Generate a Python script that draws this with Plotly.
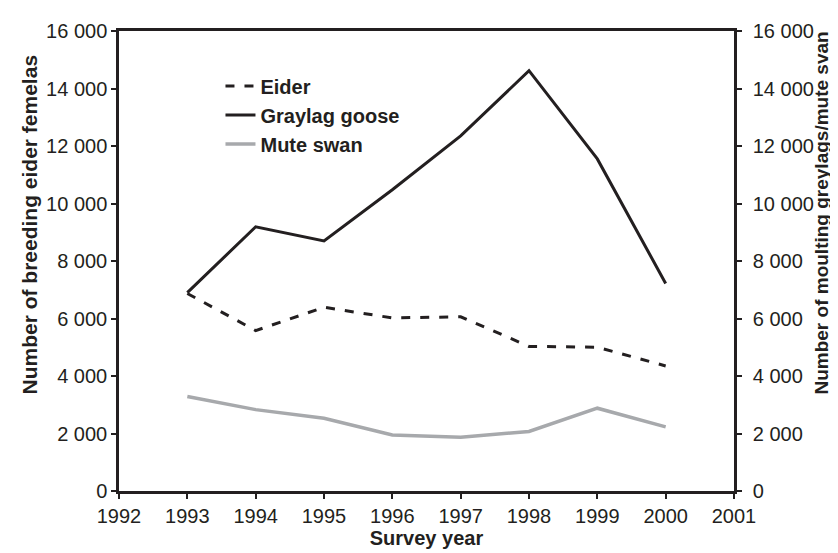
import plotly.graph_objects as go

years = [1993, 1994, 1995, 1996, 1997, 1998, 1999, 2000]
eider = [6870, 5580, 6390, 6020, 6060, 5030, 5000, 4350]
graylag = [6900, 9190, 8700, 10480, 12350, 14620, 11550, 7220]
mute_swan = [3290, 2830, 2530, 1950, 1870, 2070, 2880, 2230]

FONT = "Liberation Sans, Arial, sans-serif"
BLACK = "#231f20"
GREY = "#a7a9ac"

fig = go.Figure()
fig.add_trace(go.Scatter(x=years, y=eider, name="<b>Eider</b>", mode="lines",
                         line=dict(color=BLACK, width=3, dash="9px,10px"), yaxis="y"))
fig.add_trace(go.Scatter(x=years, y=graylag, name="<b>Graylag goose</b>", mode="lines",
                         line=dict(color=BLACK, width=3), yaxis="y2"))
fig.add_trace(go.Scatter(x=years, y=mute_swan, name="<b>Mute swan</b>", mode="lines",
                         line=dict(color=GREY, width=3.5), yaxis="y2"))

axis_common = dict(range=[0, 16000], dtick=2000, tickformat=",d", showline=True,
                   linecolor=BLACK, linewidth=2.5, ticks="outside", ticklen=5,
                   tickcolor=BLACK, tickwidth=2, showgrid=False, zeroline=False,
                   tickfont=dict(family=FONT, size=20, color=BLACK))

fig.update_layout(
    width=838, height=553,
    margin=dict(l=111, r=112, t=16, b=70),
    paper_bgcolor="white", plot_bgcolor="white",
    separators=". ",
    font=dict(family=FONT, color=BLACK),
    xaxis=dict(range=[1992, 2001], dtick=1, showline=True, mirror=True,
               linecolor=BLACK, linewidth=2.5, ticks="outside", ticklen=5,
               tickcolor=BLACK, tickwidth=2, showgrid=False, zeroline=False,
               tickfont=dict(family=FONT, size=20, color=BLACK),
               title=dict(text="<b>Survey year</b>", font=dict(family=FONT, size=20, color=BLACK),
                          standoff=6)),
    yaxis=dict(**axis_common),
    yaxis2=dict(**axis_common, overlaying="y", side="right", ticklabelstandoff=7),
    showlegend=True,
    legend=dict(x=0.165, y=0.923, xanchor="left", yanchor="top",
                bgcolor="rgba(0,0,0,0)", font=dict(family=FONT, size=20, color=BLACK),
                tracegroupgap=0),
    annotations=[
        dict(text="<b>Number of breeding eider femelas</b>", textangle=-90,
             xref="paper", yref="paper", x=-0.145, y=0.205, xanchor="center", yanchor="bottom",
             showarrow=False, font=dict(family=FONT, size=21, color=BLACK)),
        dict(text="<b>Number of moulting greylags/mute svan</b>", textangle=-90,
             xref="paper", yref="paper", x=1.142, y=0.205, xanchor="center", yanchor="bottom",
             showarrow=False, font=dict(family=FONT, size=19, color=BLACK)),
    ],
)

fig.write_html("out.html")
